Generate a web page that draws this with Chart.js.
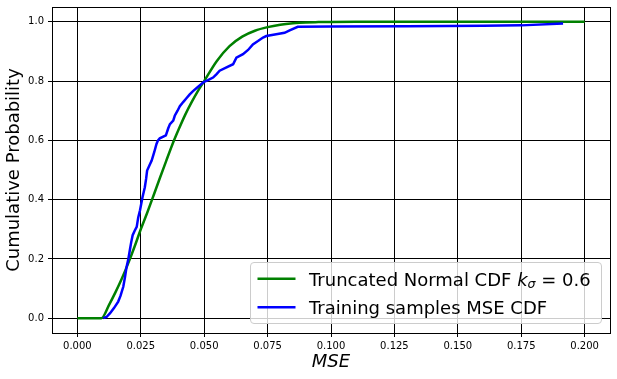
<!DOCTYPE html>
<html><head><meta charset="utf-8">
<script src="https://cdn.jsdelivr.net/npm/chart.js@4/dist/chart.umd.min.js"></script>
<style>html,body{margin:0;padding:0;background:#fff;overflow:hidden;} canvas{display:block;}</style>
</head><body>
<canvas id="c" width="617" height="379"></canvas>
<script>
// ---- data ----
const xTicks = [0, 0.025, 0.05, 0.075, 0.1, 0.125, 0.15, 0.175, 0.2];
const yTicks = [0, 0.2, 0.4, 0.6, 0.8, 1.0];

const truncNormX = [0, 0.005, 0.0095, 0.0125, 0.015, 0.0175, 0.02, 0.0225, 0.025, 0.0275, 0.03, 0.0325, 0.035, 0.0375, 0.04, 0.0425, 0.045, 0.0475, 0.05, 0.055, 0.06, 0.065, 0.07, 0.075, 0.08, 0.085, 0.09, 0.095, 0.1, 0.11, 0.12, 0.15, 0.2];
const truncNormY = [0, 0, 0, 0.045, 0.087, 0.133, 0.184, 0.24, 0.30, 0.355, 0.413, 0.472, 0.53, 0.587, 0.638, 0.686, 0.728, 0.766, 0.80, 0.868, 0.918, 0.950, 0.970, 0.982, 0.990, 0.995, 0.998, 0.999, 0.9995, 1.0, 1.0, 1.0, 1.0];

const trainX = [0.0102, 0.0115, 0.0129, 0.0145, 0.0161, 0.017, 0.0181, 0.0188, 0.0194, 0.0201, 0.0207, 0.0212, 0.0218, 0.0226, 0.0234, 0.024, 0.0247, 0.0257, 0.0266, 0.0271, 0.0275, 0.0284, 0.0293, 0.0303, 0.0312, 0.0318, 0.0325, 0.0349, 0.0358, 0.0365, 0.0378, 0.0384, 0.0395, 0.0404, 0.0418, 0.043, 0.0443, 0.0456, 0.0475, 0.0498, 0.0515, 0.0535, 0.0548, 0.0561, 0.0588, 0.0614, 0.0627, 0.0653, 0.0673, 0.0692, 0.0712, 0.0732, 0.0745, 0.0784, 0.0817, 0.0837, 0.0869, 0.1, 0.13, 0.16, 0.175, 0.1915];
const trainY = [0, 0.004, 0.017, 0.035, 0.056, 0.075, 0.106, 0.14, 0.173, 0.2, 0.23, 0.255, 0.28, 0.295, 0.308, 0.34, 0.364, 0.409, 0.442, 0.47, 0.498, 0.515, 0.532, 0.56, 0.588, 0.6, 0.607, 0.617, 0.64, 0.655, 0.667, 0.683, 0.7, 0.715, 0.73, 0.742, 0.755, 0.766, 0.78, 0.797, 0.803, 0.812, 0.823, 0.835, 0.846, 0.857, 0.879, 0.891, 0.905, 0.924, 0.935, 0.947, 0.952, 0.958, 0.963, 0.971, 0.983, 0.984, 0.985, 0.987, 0.988, 0.994];

const legendText1 = ['Truncated Normal CDF ', 'k', 'σ', ' = 0.6'];
const legendText2 = 'Training samples MSE CDF';
const xTitle = 'MSE';
const yTitle = 'Cumulative Probability';

// ---- chart ----
const FAM = "'DejaVu Sans', sans-serif";
const GREEN = '#008000', BLUE = '#0000ff';

const framePlugin = {
  id: 'frame',
  afterDatasetsDraw(chart) {
    const {ctx, chartArea: a} = chart;
    ctx.save();
    ctx.strokeStyle = '#000'; ctx.lineWidth = 1;
    const l = Math.round(a.left) + 0.5, t = Math.round(a.top) + 0.5;
    const r = Math.round(a.right) + 0.5, b = Math.round(a.bottom) + 0.5;
    ctx.strokeRect(l, t, r - l, b - t);
    ctx.restore();
  }
};

const legendPlugin = {
  id: 'mplLegend',
  afterDraw(chart) {
    const {ctx, chartArea: a} = chart;
    ctx.save();
    const bw = 351, bh = 61;
    const bx = Math.round(a.right) - 9 - bw + 0.5, by = Math.round(a.bottom) - 10 - bh + 0.5;
    ctx.beginPath();
    ctx.roundRect(bx, by, bw, bh, 3.5);
    ctx.fillStyle = 'rgba(255,255,255,0.8)';
    ctx.fill();
    ctx.strokeStyle = '#cccccc'; ctx.lineWidth = 1; ctx.stroke();

    const lx0 = bx + 7, lx1 = bx + 45, tx = bx + 58.5;
    const rows = [by + 16.3, by + 44.7];
    const cols = [GREEN, BLUE];
    rows.forEach((y, i) => {
      ctx.beginPath();
      ctx.moveTo(lx0, y); ctx.lineTo(lx1, y);
      ctx.strokeStyle = cols[i]; ctx.lineWidth = 2.5; ctx.stroke();
    });
    ctx.fillStyle = '#000';
    ctx.textBaseline = 'alphabetic';
    ctx.textAlign = 'left';
    let x = tx, base = rows[0] + 6.7;
    ctx.font = `18px ${FAM}`;
    ctx.fillText(legendText1[0], x, base); x += ctx.measureText(legendText1[0]).width;
    ctx.font = `italic 18px ${FAM}`;
    ctx.fillText(legendText1[1], x, base); x += ctx.measureText(legendText1[1]).width;
    ctx.font = `italic 12.6px ${FAM}`;
    ctx.fillText(legendText1[2], x, base + 2.8); x += ctx.measureText(legendText1[2]).width;
    ctx.font = `18px ${FAM}`;
    ctx.fillText(legendText1[3], x, base);
    ctx.fillText(legendText2, tx, rows[1] + 6.7);
    ctx.restore();
  }
};

const axisCommon = (ticksArr, digits) => ({
  type: 'linear',
  afterBuildTicks: s => { s.ticks = ticksArr.map(v => ({value: v})); },
  ticks: {
    callback: v => Number(v).toFixed(digits),
    font: {family: FAM, size: 10}, color: '#000',
    autoSkip: false, maxRotation: 0, minRotation: 0
  },
  grid: {color: '#000', lineWidth: 1, tickLength: 4, drawTicks: true},
  border: {display: false}
});

const xAxis = axisCommon(xTicks, 3);
xAxis.min = -0.01; xAxis.max = 0.21;
xAxis.ticks.padding = 3;
xAxis.afterFit = s => { s.height = 46; s.paddingLeft = 0; s.paddingRight = 0; };
xAxis.title = {display: true, text: xTitle, color: '#000',
  font: {family: FAM, size: 18, style: 'italic'}, padding: {top: 0, bottom: 6}};

const yAxis = axisCommon(yTicks, 1);
yAxis.min = -0.05; yAxis.max = 1.05;
yAxis.ticks.padding = 4;
yAxis.afterFit = s => { s.width = 52; s.paddingTop = 0; s.paddingBottom = 0; };
yAxis.title = {display: true, text: yTitle, color: '#000',
  font: {family: FAM, size: 18}, padding: {top: 3.4, bottom: 0}};

new Chart(document.getElementById('c'), {
  type: 'line',
  data: {
    datasets: [
      {
        label: legendText2,
        data: trainX.map((x, i) => ({x, y: trainY[i]})),
        borderColor: BLUE, borderWidth: 2.5, pointRadius: 0, fill: false, tension: 0
      },
      {
        label: legendText1.join(''),
        data: truncNormX.map((x, i) => ({x, y: truncNormY[i]})),
        borderColor: GREEN, borderWidth: 2.5, pointRadius: 0, fill: false,
        cubicInterpolationMode: 'monotone'
      }
    ]
  },
  options: {
    responsive: false,
    devicePixelRatio: 1,
    animation: false,
    layout: {padding: {top: 7, right: 7, left: 0, bottom: 0}},
    plugins: {legend: {display: false}, tooltip: {enabled: false}, title: {display: false}},
    scales: {x: xAxis, y: yAxis}
  },
  plugins: [framePlugin, legendPlugin]
});
</script>
</body></html>
